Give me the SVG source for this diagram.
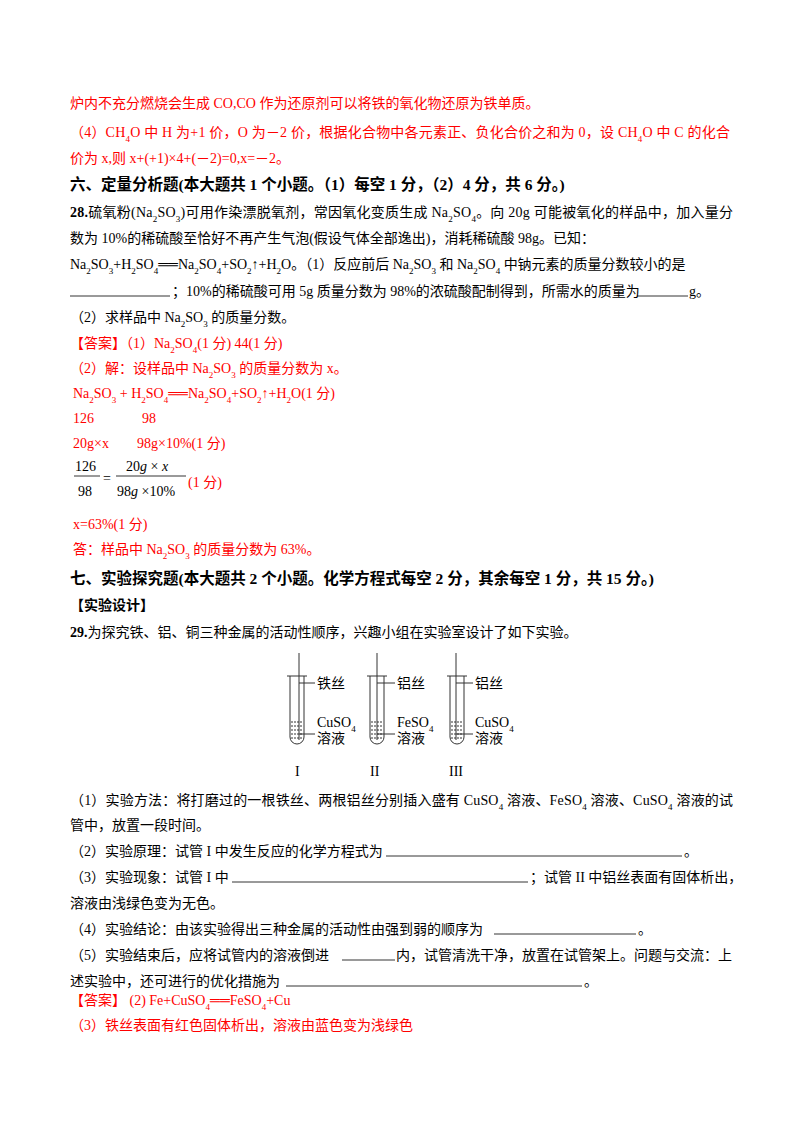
<svg xmlns="http://www.w3.org/2000/svg" width="800" height="1132" viewBox="0 0 800 1132">
<style>
text{font-family:"Liberation Serif","Noto Sans CJK SC",serif;font-size:14px;fill:#000}
.r{fill:#f00}
.h{font-size:15.5px;font-weight:bold}
.s{font-size:9px;baseline-shift:sub}
.u{font-size:9px;baseline-shift:-4px}
.f{font-style:italic}
.ln{stroke:#000;stroke-width:0.8}
.tube{fill:none;stroke:#333;stroke-width:1}
</style>
<rect width="800" height="1132" fill="#fff"/>
<g id="text">
<text class="r" x="70" y="108">炉内不充分燃烧会生成 CO,CO 作为还原剂可以将铁的氧化物还原为铁单质。</text>
<text class="r" x="70" y="137" textLength="660">（4）CH<tspan class="s">4</tspan>O 中 H 为+1 价，O 为－2 价，根据化合物中各元素正、负化合价之和为 0，设 CH<tspan class="s">4</tspan>O 中 C 的化合</text>
<text class="r" x="70" y="163">价为 x,则 x+(+1)×4+(－2)=0,x=－2。</text>
<text class="h" x="70" y="190">六、定量分析题(本大题共 1 个小题。（1）每空 1 分，（2）4 分，共 6 分。)</text>
<text x="70" y="217" textLength="663"><tspan font-weight="bold">28.</tspan>硫氧粉(Na<tspan class="s">2</tspan>SO<tspan class="s">3</tspan>)可用作染漂脱氧剂，常因氧化变质生成 Na<tspan class="s">2</tspan>SO<tspan class="s">4</tspan>。向 20g 可能被氧化的样品中，加入量分</text>
<text x="70" y="243">数为 10%的稀硫酸至恰好不再产生气泡(假设气体全部逸出)，消耗稀硫酸 98g。已知：</text>
<text x="70" y="269">Na<tspan class="s">2</tspan>SO<tspan class="s">3</tspan>+H<tspan class="s">2</tspan>SO<tspan class="s">4</tspan>══Na<tspan class="s">2</tspan>SO<tspan class="s">4</tspan>+SO<tspan class="s">2</tspan>↑+H<tspan class="s">2</tspan>O。（1）反应前后 Na<tspan class="s">2</tspan>SO<tspan class="s">3</tspan> 和 Na<tspan class="s">2</tspan>SO<tspan class="s">4</tspan> 中钠元素的质量分数较小的是</text>
<line class="ln" x1="70" y1="296" x2="170" y2="296"/>
<text x="172" y="296">；10%的稀硫酸可用 5g 质量分数为 98%的浓硫酸配制得到，所需水的质量为</text>
<line class="ln" x1="637" y1="296" x2="688" y2="296"/>
<text x="689" y="296">g。</text>
<text x="70" y="322">（2）求样品中 Na<tspan class="s">2</tspan>SO<tspan class="s">3</tspan> 的质量分数。</text>
<text class="r" x="70" y="348">【答案】（1）Na<tspan class="s">2</tspan>SO<tspan class="s">4</tspan>(1 分)      44(1 分)</text>
<text class="r" x="70" y="373">（2）解：设样品中 Na<tspan class="s">2</tspan>SO<tspan class="s">3</tspan> 的质量分数为 x。</text>
<text class="r" x="73" y="398">Na<tspan class="s">2</tspan>SO<tspan class="s">3</tspan>  +   H<tspan class="s">2</tspan>SO<tspan class="s">4</tspan>══Na<tspan class="s">2</tspan>SO<tspan class="s">4</tspan>+SO<tspan class="s">2</tspan>↑+H<tspan class="s">2</tspan>O(1 分)</text>
<text class="r" x="73" y="423">126</text>
<text class="r" x="142" y="423">98</text>
<text class="r" x="73" y="448">20g×x</text>
<text class="r" x="137" y="448">98g×10%(1 分)</text>
<text x="75" y="471" font-size="15">126</text>
<line class="ln" x1="74" y1="476" x2="100" y2="476"/>
<text x="78" y="496" font-size="15">98</text>
<text x="103" y="483" font-size="15">=</text>
<text x="126" y="471" font-size="15">20<tspan class="f">g</tspan> × <tspan class="f">x</tspan></text>
<line class="ln" x1="116" y1="476" x2="186" y2="476"/>
<text x="117" y="496" font-size="15">98<tspan class="f">g</tspan> ×10%</text>
<text class="r" x="188" y="487">(1 分)</text>
<text class="r" x="73" y="529">x=63%(1 分)</text>
<text class="r" x="73" y="554">答：样品中 Na<tspan class="s">2</tspan>SO<tspan class="s">3</tspan> 的质量分数为 63%。</text>
<text class="h" x="70" y="584">七、实验探究题(本大题共 2 个小题。化学方程式每空 2 分，其余每空 1 分，共 15 分。)</text>
<text x="70" y="610" font-weight="bold">【实验设计】</text>
<text x="70" y="637"><tspan font-weight="bold">29.</tspan>为探究铁、铝、铜三种金属的活动性顺序，兴趣小组在实验室设计了如下实验。</text>
<text x="70" y="805" textLength="663">（1）实验方法：将打磨过的一根铁丝、两根铝丝分别插入盛有 CuSO<tspan class="s">4</tspan> 溶液、FeSO<tspan class="s">4</tspan> 溶液、CuSO<tspan class="s">4</tspan> 溶液的试</text>
<text x="70" y="830">管中，放置一段时间。</text>
<text x="70" y="856">（2）实验原理：试管 I 中发生反应的化学方程式为</text>
<line class="ln" x1="386" y1="856" x2="682" y2="856"/>
<text x="684" y="856">。</text>
<text x="70" y="882">（3）实验现象：试管 I 中</text>
<line class="ln" x1="232" y1="882" x2="528" y2="882"/>
<text x="530" y="882">；试管 II 中铝丝表面有固体析出，</text>
<text x="70" y="908">溶液由浅绿色变为无色。</text>
<text x="70" y="934">（4）实验结论：由该实验得出三种金属的活动性由强到弱的顺序为</text>
<line class="ln" x1="494" y1="934" x2="636" y2="934"/>
<text x="638" y="934">。</text>
<text x="70" y="960">（5）实验结束后，应将试管内的溶液倒进</text>
<line class="ln" x1="342" y1="960" x2="395" y2="960"/>
<text x="396" y="960">内，试管清洗干净，放置在试管架上。问题与交流：上</text>
<text x="70" y="986">述实验中，还可进行的优化措施为</text>
<line class="ln" x1="286" y1="986" x2="582" y2="986"/>
<text x="584" y="986">。</text>
<text class="r" x="70" y="1005">【答案】  (2) Fe+CuSO<tspan class="s">4</tspan>══FeSO<tspan class="s">4</tspan>+Cu</text>
<text class="r" x="70" y="1030">（3）铁丝表面有红色固体析出，溶液由蓝色变为浅绿色</text>
</g>
<g id="figure">
<g id="tube1">
<path class="tube" d="M290,676 V737 A7,7 0 0 0 304,737 V676"/>
<line class="tube" x1="287" y1="676" x2="307" y2="676"/>
<line class="tube" x1="299" y1="653" x2="299" y2="740"/>
<path class="tube" d="M291,722 H303 M291,726 H303 M291,730 H303 M291,734 H303 M291,738 H303" stroke-dasharray="2,1"/>
<line class="tube" x1="299" y1="683" x2="315" y2="683"/>
<line class="tube" x1="299" y1="734" x2="315" y2="734"/>
<text x="317" y="688">铁丝</text>
<text x="317" y="727">CuSO<tspan class="s">4</tspan></text>
<text x="317" y="743">溶液</text>
<text x="295" y="776" font-size="15">I</text>
</g>
<g id="tube2">
<path class="tube" d="M370,676 V737 A7,7 0 0 0 384,737 V676"/>
<line class="tube" x1="367" y1="676" x2="387" y2="676"/>
<line class="tube" x1="377" y1="653" x2="377" y2="740"/>
<path class="tube" d="M371,722 H383 M371,726 H383 M371,730 H383 M371,734 H383 M371,738 H383" stroke-dasharray="2,1"/>
<line class="tube" x1="377" y1="683" x2="395" y2="683"/>
<line class="tube" x1="377" y1="734" x2="395" y2="734"/>
<text x="397" y="688">铝丝</text>
<text x="397" y="727">FeSO<tspan class="s">4</tspan></text>
<text x="397" y="743">溶液</text>
<text x="370" y="776" font-size="15">II</text>
</g>
<g id="tube3">
<path class="tube" d="M450,676 V737 A7,7 0 0 0 464,737 V676"/>
<line class="tube" x1="447" y1="676" x2="467" y2="676"/>
<line class="tube" x1="456" y1="653" x2="456" y2="740"/>
<path class="tube" d="M451,722 H463 M451,726 H463 M451,730 H463 M451,734 H463 M451,738 H463" stroke-dasharray="2,1"/>
<line class="tube" x1="456" y1="683" x2="473" y2="683"/>
<line class="tube" x1="456" y1="734" x2="473" y2="734"/>
<text x="475" y="688">铝丝</text>
<text x="475" y="727">CuSO<tspan class="s">4</tspan></text>
<text x="475" y="743">溶液</text>
<text x="449" y="776" font-size="15">III</text>
</g>
</g>
<g id="connectors"/>
</svg>
